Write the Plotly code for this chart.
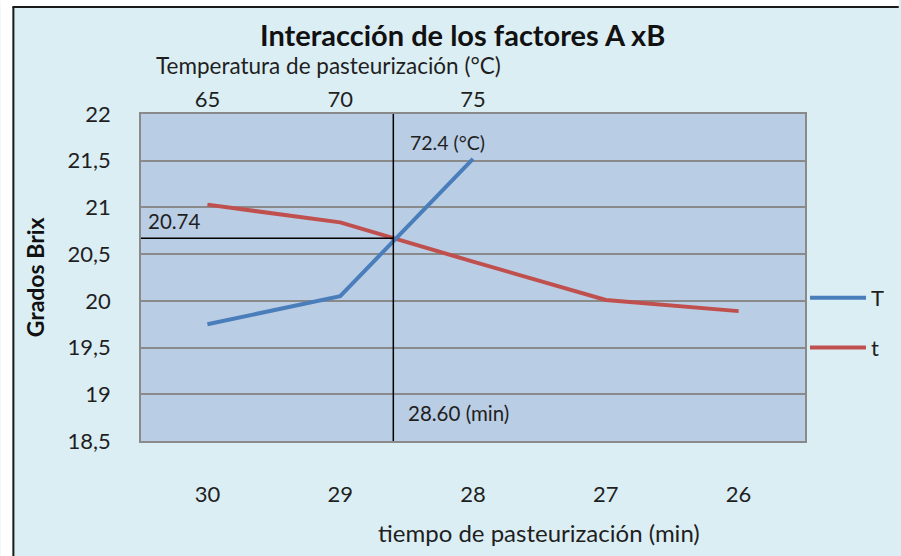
import plotly.graph_objects as go

# ---- data ----
tiempo = ["30", "29", "28", "27", "26"]          # min (bottom axis)
grados_t = [21.03, 20.84, 20.42, 20.01, 19.89]   # series t
temperatura = ["65", "70", "75"]                 # °C (top axis)
grados_T = [19.75, 20.05, 21.52]                 # series T
y_ticks = [18.5, 19, 19.5, 20, 20.5, 21, 21.5, 22]
cross_x_pos = 1.4      # 28.60 min between 29 and 28
cross_y = 20.67
lbl_T = "72.4 (°C)"
lbl_t = "28.60 (min)"
lbl_y = "20.74"

BG = "#DBEEF4"
PLOT_BG = "#B9CDE5"
GRID = "#8A8A8A"
BLUE = "#4A7EBB"
RED = "#C0504D"
TXT = "#1f1f1f"
FONT = "Lato"

fig = go.Figure()
fig.add_trace(go.Scatter(x=temperatura, y=grados_T, xaxis="x2", yaxis="y",
                         mode="lines", name="T", legendgroup="a",
                         line=dict(color=BLUE, width=4)))
fig.add_trace(go.Scatter(x=tiempo, y=grados_t, xaxis="x", yaxis="y",
                         mode="lines", name="t", legendgroup="b",
                         line=dict(color=RED, width=4)))

L, R, T, B = 141, 94, 114, 115
W, H = 901, 556
pw, ph = W - L - R, H - T - B

def px_x(p):
    return (p - L) / pw

def px_y(p):
    return (H - B - p) / ph

fig.update_layout(
    width=W, height=H,
    margin=dict(l=L, r=R, t=T, b=B, pad=0),
    paper_bgcolor=BG, plot_bgcolor=PLOT_BG,
    separators=",.",
    font=dict(family=FONT, color=TXT, size=20),
    showlegend=True,
    legend=dict(x=1.0, xanchor="left", y=px_y(323), yanchor="middle",
                bgcolor="rgba(0,0,0,0)", font=dict(size=22, color=TXT),
                tracegroupgap=18, itemwidth=56),
    xaxis=dict(type="category", categoryarray=tiempo, range=[-0.5, 4.5],
               showgrid=False, showline=True, mirror=True, linecolor=GRID,
               linewidth=1.5, ticks="", tickfont=dict(size=22),
               ticklabelstandoff=33, zeroline=False),
    xaxis2=dict(type="category", categoryarray=temperatura, range=[-0.5, 4.5],
                overlaying="x", side="top", anchor="y", showgrid=False,
                showline=False, ticks="", tickfont=dict(size=22),
                ticklabelstandoff=2, zeroline=False),
    yaxis=dict(range=[18.5, 22], tickvals=y_ticks, showgrid=True, gridcolor=GRID,
               gridwidth=1.5, showline=True, mirror=True, linecolor=GRID,
               linewidth=1.5, ticks="", tickfont=dict(size=22),
               ticklabelstandoff=24, zeroline=False),
)

shapes = [
    # white margins outside the chart frame
    dict(type="rect", xref="paper", yref="paper", x0=px_x(0), x1=px_x(12),
         y0=px_y(H), y1=px_y(0), fillcolor="white", line=dict(width=0), layer="above"),
    dict(type="rect", xref="paper", yref="paper", x0=px_x(0), x1=px_x(W),
         y0=px_y(6), y1=px_y(0), fillcolor="white", line=dict(width=0), layer="above"),
    # frame lines
    dict(type="line", xref="paper", yref="paper", x0=px_x(13), x1=px_x(13),
         y0=px_y(H), y1=px_y(7), line=dict(color="#1a1a1a", width=2), layer="above"),
    dict(type="line", xref="paper", yref="paper", x0=px_x(12), x1=px_x(W),
         y0=px_y(7), y1=px_y(7), line=dict(color="#1a1a1a", width=2), layer="above"),
    # crosshair
    dict(type="line", xref="x", yref="paper", x0=cross_x_pos, x1=cross_x_pos,
         y0=0, y1=1, line=dict(color="black", width=1.5), layer="above"),
    dict(type="line", xref="x", yref="y", x0=-0.5, x1=cross_x_pos,
         y0=cross_y, y1=cross_y, line=dict(color="black", width=1.5), layer="above"),
]
fig.update_layout(shapes=shapes)

ann = [
    dict(text="<b>Interacción de los factores A xB</b>", xref="paper", yref="paper",
         x=px_x(463), y=px_y(34), showarrow=False, font=dict(size=29, color="#111111"),
         xanchor="center", yanchor="middle"),
    dict(text="Temperatura de pasteurización (°C)", xref="paper", yref="paper",
         x=px_x(329), y=px_y(65), showarrow=False, font=dict(size=22.5),
         xanchor="center", yanchor="middle"),
    dict(text="tiempo de pasteurización (min)", xref="paper", yref="paper",
         x=px_x(540), y=px_y(532), showarrow=False, font=dict(size=24),
         xanchor="center", yanchor="middle"),
    dict(text="<b>Grados Brix</b>", xref="paper", yref="paper", textangle=-90,
         x=px_x(35), y=px_y(277), showarrow=False, font=dict(size=23, color="#111111"),
         xanchor="center", yanchor="middle"),
    dict(text=lbl_T, xref="x", yref="paper", x=cross_x_pos, y=px_y(142),
         xshift=15, showarrow=False, font=dict(size=19.5), xanchor="left", yanchor="middle"),
    dict(text=lbl_t, xref="x", yref="paper", x=cross_x_pos, y=px_y(413),
         xshift=13, showarrow=False, font=dict(size=20.5), xanchor="left", yanchor="middle"),
    dict(text=lbl_y, xref="paper", yref="y", x=0, y=cross_y, yshift=17,
         xshift=5, showarrow=False, font=dict(size=20.5), xanchor="left", yanchor="middle"),
]
fig.update_layout(annotations=ann)

fig.write_html(
    "out.html",
    config={"displayModeBar": False},
    post_script="document.body.style.margin='0';document.body.style.overflow='hidden';",
)
